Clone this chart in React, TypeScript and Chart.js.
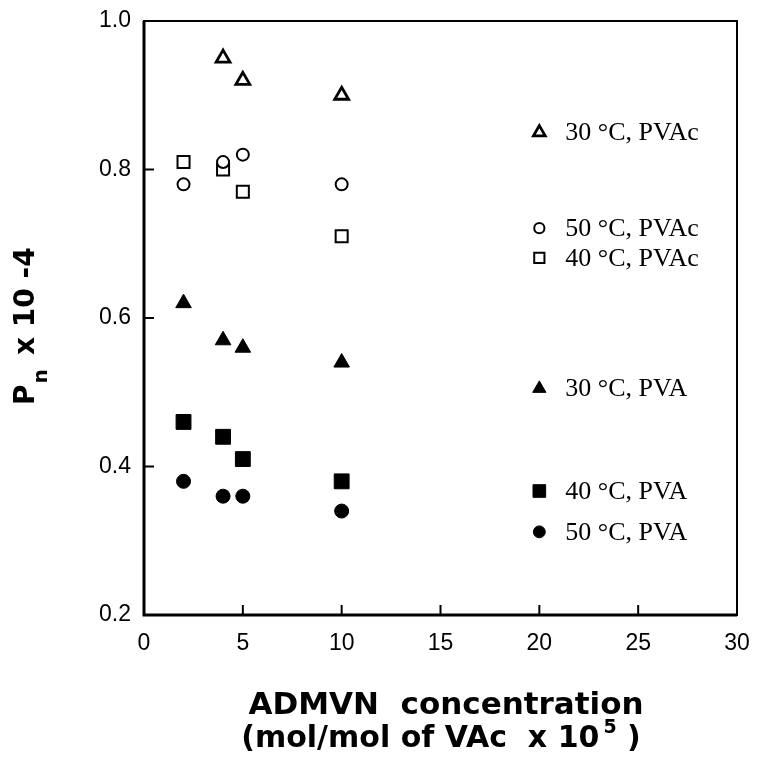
import React, { useEffect, useRef } from 'react';
import { Chart, registerables } from 'chart.js';
import { drawPoint } from 'chart.js/helpers';

Chart.register(...registerables);

// ---- data ----
const pvac30X = [4, 5, 10];
const pvac30Y = [0.95, 0.92, 0.9];
const pvac50X = [2, 4, 5, 10];
const pvac50Y = [0.78, 0.81, 0.82, 0.78];
const pvac40X = [2, 4, 5, 10];
const pvac40Y = [0.81, 0.8, 0.77, 0.71];
const pva30X = [2, 4, 5, 10];
const pva30Y = [0.62, 0.57, 0.56, 0.54];
const pva40X = [2, 4, 5, 10];
const pva40Y = [0.46, 0.44, 0.41, 0.38];
const pva50X = [2, 4, 5, 10];
const pva50Y = [0.38, 0.36, 0.36, 0.34];

const seriesLabels = ['30 °C, PVAc', '50 °C, PVAc', '40 °C, PVAc', '30 °C, PVA', '40 °C, PVA', '50 °C, PVA'];
// legend rows anchored on the value axis
const legendRowY = [0.85, 0.721, 0.681, 0.505, 0.367, 0.312];
const legendMarkerX = 20;

const xTickMin = 0, xTickMax = 30, xStep = 5;
const yTickMin = 0.2, yTickMax = 1.0, yStep = 0.2;

const pts = (xs: number[], ys: number[]) => xs.map((x, i) => ({ x, y: ys[i] }));

const styles = [
  { pointStyle: 'triangle', radius: 8, fill: false, bw: 2.8 },
  { pointStyle: 'circle', radius: 6, fill: false, bw: 2 },
  { pointStyle: 'rect', radius: 8.5, fill: false, bw: 2 },
  { pointStyle: 'triangle', radius: 9, fill: true, bw: 1 },
  { pointStyle: 'rect', radius: 10.5, fill: true, bw: 1 },
  { pointStyle: 'circle', radius: 7, fill: true, bw: 1 },
];

const framePlugin = {
  id: 'frameAndText',
  afterDraw(chart: any) {
    const { ctx, chartArea, scales } = chart;
    const { left, right, top, bottom } = chartArea;
    const xs = scales.x, ys = scales.y;
    ctx.save();
    ctx.strokeStyle = '#000';
    ctx.lineWidth = 2;
    ctx.strokeRect(left, top, right - left, bottom - top);
    ctx.lineWidth = 3;
    ctx.beginPath();
    ctx.moveTo(left, top);
    ctx.lineTo(left, bottom);
    ctx.lineTo(right, bottom);
    ctx.stroke();
    // inward ticks
    ctx.lineWidth = 2;
    xs.ticks.forEach((t: any) => {
      if (t.value <= xs.min || t.value >= xs.max) return;
      const px = xs.getPixelForValue(t.value);
      ctx.beginPath();
      ctx.moveTo(px, bottom);
      ctx.lineTo(px, bottom - 10);
      ctx.stroke();
    });
    ys.ticks.forEach((t: any) => {
      if (t.value <= ys.min + 1e-9 || t.value >= ys.max - 1e-9) return;
      const py = ys.getPixelForValue(t.value);
      ctx.beginPath();
      ctx.moveTo(left, py);
      ctx.lineTo(left + 10, py);
      ctx.stroke();
    });

    // legend
    chart.data.datasets.forEach((ds: any, i: number) => {
      const s = styles[i];
      const mx = xs.getPixelForValue(legendMarkerX);
      const my = ys.getPixelForValue(legendRowY[i]);
      ctx.save();
      ctx.strokeStyle = '#000';
      ctx.fillStyle = s.fill ? '#000' : '#fff';
      ctx.lineWidth = s.bw;
      drawPoint(ctx, { pointStyle: s.pointStyle, radius: s.radius * 0.85, rotation: 0, borderWidth: s.bw } as any, mx, my);
      ctx.restore();
      ctx.fillStyle = '#000';
      ctx.font = '26px "Liberation Serif", "Times New Roman", serif';
      ctx.textBaseline = 'middle';
      ctx.textAlign = 'left';
      ctx.fillText(ds.label, mx + 26, my + 1);
    });

    // x title
    ctx.fillStyle = '#000';
    ctx.textBaseline = 'alphabetic';
    ctx.textAlign = 'left';
    const bold = (px: number) => `bold ${px}px "DejaVu Sans", sans-serif`;
    ctx.font = bold(31);
    const l1 = 'ADMVN  concentration';
    const w1 = ctx.measureText(l1).width;
    ctx.fillText(l1, 446 - w1 / 2, 714);
    const a = '(mol/mol of VAc  x 10';
    const sup = '5';
    const c = ' )';
    ctx.font = bold(30);
    const wa = ctx.measureText(a).width;
    const wc = ctx.measureText(c).width;
    ctx.font = bold(19);
    const ws = ctx.measureText(sup).width;
    const x0 = 441 - (wa + ws + 4 + wc) / 2;
    ctx.font = bold(30);
    ctx.fillText(a, x0, 747);
    ctx.font = bold(19);
    ctx.fillText(sup, x0 + wa + 4, 733);
    ctx.font = bold(30);
    ctx.fillText(c, x0 + wa + 4 + ws, 747);

    // y title (rotated)
    ctx.save();
    ctx.translate(34, 405);
    ctx.rotate(-Math.PI / 2);
    ctx.font = bold(28);
    ctx.fillText('P', 0, 0);
    const wp = ctx.measureText('P').width;
    ctx.font = bold(20);
    ctx.fillText('n', wp + 1, 13);
    ctx.font = bold(28);
    ctx.fillText('x 10 -4', 50, 0);
    ctx.restore();

    ctx.restore();
  },
};

export default function App() {
  const ref = useRef<HTMLCanvasElement>(null);
  useEffect(() => {
    document.body.style.margin = '0';
    const all = [
      pts(pvac30X, pvac30Y),
      pts(pvac50X, pvac50Y),
      pts(pvac40X, pvac40Y),
      pts(pva30X, pva30Y),
      pts(pva40X, pva40Y),
      pts(pva50X, pva50Y),
    ];
    const chart = new Chart(ref.current!, {
      type: 'scatter',
      data: {
        datasets: all.map((d, i) => ({
          label: seriesLabels[i],
          data: d,
          pointStyle: styles[i].pointStyle as any,
          pointRadius: styles[i].radius,
          pointHoverRadius: styles[i].radius,
          pointBorderWidth: styles[i].bw,
          borderColor: '#000',
          backgroundColor: styles[i].fill ? '#000' : '#fff',
          showLine: false,
        })),
      },
      options: {
        responsive: false,
        animation: false,
        events: [],
        layout: { padding: { top: 21, right: 20, left: 0, bottom: 0 } },
        plugins: { legend: { display: false }, tooltip: { enabled: false } },
        scales: {
          x: {
            type: 'linear',
            min: xTickMin,
            max: xTickMax,
            ticks: {
              stepSize: xStep,
              color: '#000',
              padding: 15,
              font: { family: '"Liberation Sans", Arial, sans-serif', size: 23 },
              maxRotation: 0,
            },
            grid: { display: false, drawTicks: false },
            border: { display: false },
            afterFit: (s: any) => { s.height = 152; s.paddingLeft = 0; s.paddingRight = 0; },
          },
          y: {
            type: 'linear',
            min: yTickMin,
            max: yTickMax,
            ticks: {
              stepSize: yStep,
              color: '#000',
              padding: 13,
              font: { family: '"Liberation Sans", Arial, sans-serif', size: 23 },
              callback: (v: any) => Number(v).toFixed(1),
            },
            grid: { display: false, drawTicks: false },
            border: { display: false },
            afterFit: (s: any) => { s.width = 144; s.paddingTop = 0; s.paddingBottom = 0; },
          },
        },
      },
      plugins: [framePlugin],
    });
    return () => chart.destroy();
  }, []);
  return <canvas ref={ref} width={757} height={767} style={{ display: 'block' }} />;
}
